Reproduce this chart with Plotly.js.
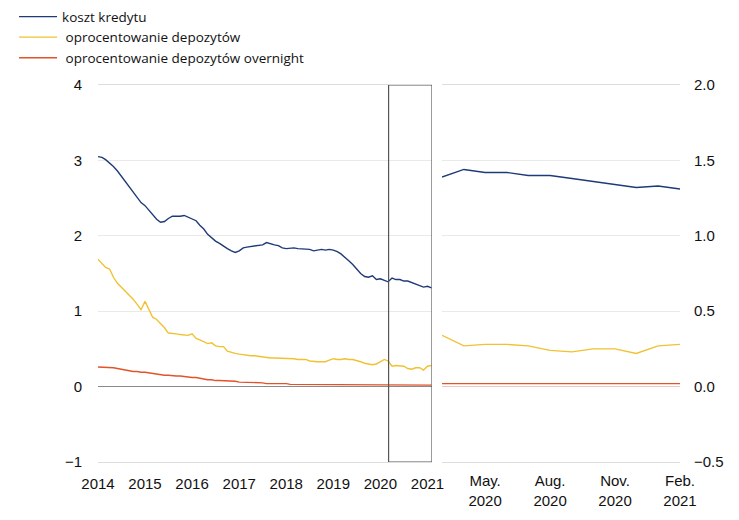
<!DOCTYPE html>
<html>
<head>
<meta charset="utf-8">
<script src="https://cdn.plot.ly/plotly-3.0.1.min.js"></script>
<style>html,body{margin:0;padding:0;background:#fff;}#chart{width:739px;height:520px;}</style>
</head>
<body>
<div id="chart"></div>
<script>
// Monthly observations, 2014-01 .. 2021-02
var startYear = 2014, startMonth = 1, nMonths = 86;
var kosztKredytu = [
  3.05,3.04,3.01,2.97,2.92,2.86,2.79,2.73,2.66,2.58,2.51,2.44,
  2.40,2.34,2.28,2.22,2.18,2.19,2.23,2.26,2.26,2.26,2.27,2.25,
  2.23,2.20,2.14,2.09,2.02,1.97,1.93,1.90,1.86,1.83,1.80,1.78,
  1.80,1.84,1.85,1.86,1.87,1.87,1.88,1.91,1.89,1.88,1.87,1.84,
  1.83,1.84,1.84,1.83,1.83,1.82,1.82,1.80,1.81,1.82,1.81,1.82,
  1.81,1.79,1.76,1.72,1.67,1.62,1.56,1.50,1.46,1.45,1.47,1.42,
  1.43,1.41,1.39,1.44,1.42,1.42,1.40,1.40,1.38,1.36,1.34,1.32,
  1.33,1.31
];
var oprocDepozytow = [
  1.69,1.63,1.58,1.56,1.45,1.37,1.32,1.27,1.22,1.16,1.09,1.02,
  1.13,1.02,0.92,0.89,0.84,0.78,0.71,0.71,0.70,0.69,0.68,0.68,
  0.70,0.64,0.62,0.60,0.57,0.58,0.54,0.53,0.53,0.47,0.45,0.44,
  0.43,0.42,0.42,0.41,0.41,0.40,0.40,0.38,0.38,0.38,0.38,0.37,
  0.37,0.37,0.37,0.36,0.36,0.36,0.34,0.33,0.33,0.33,0.33,0.35,
  0.37,0.36,0.36,0.37,0.36,0.36,0.35,0.33,0.31,0.30,0.29,0.30,
  0.33,0.36,0.34,0.27,0.28,0.28,0.27,0.24,0.23,0.25,0.25,0.22,
  0.27,0.28
];
var oprocOvernight = [
  0.26,0.26,0.26,0.25,0.25,0.24,0.23,0.22,0.21,0.20,0.20,0.19,
  0.19,0.18,0.17,0.16,0.16,0.15,0.15,0.14,0.14,0.14,0.13,0.13,
  0.12,0.12,0.11,0.10,0.09,0.09,0.08,0.08,0.08,0.07,0.07,0.07,
  0.06,0.06,0.05,0.05,0.05,0.05,0.05,0.04,0.04,0.04,0.04,0.04,
  0.04,0.03,0.03,0.03,0.03,0.03,0.03,0.03,0.03,0.03,0.03,0.03,
  0.03,0.03,0.03,0.03,0.03,0.03,0.02,0.02,0.02,0.02,0.02,0.02,
  0.02,0.02,0.02,0.02,0.02,0.02,0.02,0.02,0.02,0.02,0.02,0.02,
  0.02,0.02
];
var seriesNames = ['koszt kredytu', ' oprocentowanie depozytów', ' oprocentowanie depozytów overnight'];
var seriesColors = ['#1f3a78', '#f0c232', '#e2532a'];
var leftTickVals = ['2014-01-01','2015-01-01','2016-01-01','2017-01-01','2018-01-01','2019-01-01','2020-01-01','2021-01-01'];
var leftTickText = ['2014','2015','2016','2017','2018','2019','2020','2021'];
var rightTickVals = ['2020-05-01','2020-08-01','2020-11-01','2021-02-01'];
var rightTickText = ['May.<br>2020','Aug.<br>2020','Nov.<br>2020','Feb.<br>2021'];
var zoomMonths = 12; // Mar 2020 .. Feb 2021

var dates = [];
for (var i = 0; i < nMonths; i++) {
  var m = startMonth - 1 + i;
  var y = startYear + Math.floor(m / 12);
  var mm = (m % 12) + 1;
  dates.push(y + '-' + (mm < 10 ? '0' + mm : mm) + '-01');
}

var all = [kosztKredytu, oprocDepozytow, oprocOvernight];
var traces = [];
all.forEach(function (vals, k) {
  traces.push({x: dates, y: vals, type: 'scatter', mode: 'lines', name: seriesNames[k],
    line: {color: seriesColors[k], width: 1.4}, xaxis: 'x', yaxis: 'y'});
});
all.forEach(function (vals, k) {
  traces.push({x: dates.slice(-zoomMonths), y: vals.slice(-zoomMonths), type: 'scatter', mode: 'lines',
    name: seriesNames[k], showlegend: false,
    line: {color: seriesColors[k], width: 1.4}, xaxis: 'x2', yaxis: 'y2'});
});

var tickFont = {family: 'Liberation Sans, Arial, sans-serif', size: 15, color: '#111'};
var hiddenTicks = {ticks: 'outside', tickcolor: 'rgba(0,0,0,0)'};
var layout = {
  width: 739, height: 520,
  margin: {l: 0, r: 0, t: 85, b: 58},
  paper_bgcolor: '#fff', plot_bgcolor: '#fff',
  showlegend: true,
  legend: {x: 0.019, y: 1.222, xanchor: 'left', yanchor: 'top', bgcolor: 'rgba(0,0,0,0)',
    itemwidth: 38,
    font: {family: 'Open Sans, sans-serif', size: 13.5, color: '#111'}, tracegroupgap: 0},
  xaxis: Object.assign({domain: [0.1326, 0.5846], type: 'date', range: ['2014-01-01', '2021-02-05'],
    tickvals: leftTickVals, ticktext: leftTickText, tickfont: tickFont, ticklen: 8,
    showgrid: false, showline: true, linecolor: '#dddddd', mirror: true, zeroline: false, anchor: 'y'}, hiddenTicks),
  yaxis: Object.assign({domain: [0, 1], range: [-1, 4], dtick: 1, tickfont: tickFont, ticklen: 12,
    showgrid: true, gridcolor: '#e9e9e9', zeroline: true, zerolinecolor: '#8a8a8a', zerolinewidth: 1,
    showline: false, anchor: 'x'}, hiddenTicks),
  xaxis2: Object.assign({domain: [0.5981, 0.9202], type: 'date', range: ['2020-03-01', '2021-02-01'],
    tickvals: rightTickVals, ticktext: rightTickText, tickfont: tickFont, ticklen: 5,
    showgrid: false, showline: true, linecolor: '#dddddd', mirror: true, zeroline: false, anchor: 'y2'}, hiddenTicks),
  yaxis2: Object.assign({domain: [0, 1], range: [-0.5, 2], dtick: 0.5, tickformat: '.1f', tickfont: tickFont, ticklen: 10,
    side: 'right', anchor: 'x2', showgrid: true, gridcolor: '#e9e9e9', zeroline: true,
    zerolinecolor: '#ecc8c0', zerolinewidth: 1, showline: false}, hiddenTicks),
  shapes: [{type: 'rect', xref: 'x', yref: 'y', x0: '2020-03-05', x1: '2021-02-05', y0: -1, y1: 4,
    line: {color: '#555555', width: 1.2}, fillcolor: 'rgba(0,0,0,0)'}]
};

Plotly.newPlot('chart', traces, layout, {displayModeBar: false, staticPlot: true});
</script>
</body>
</html>
